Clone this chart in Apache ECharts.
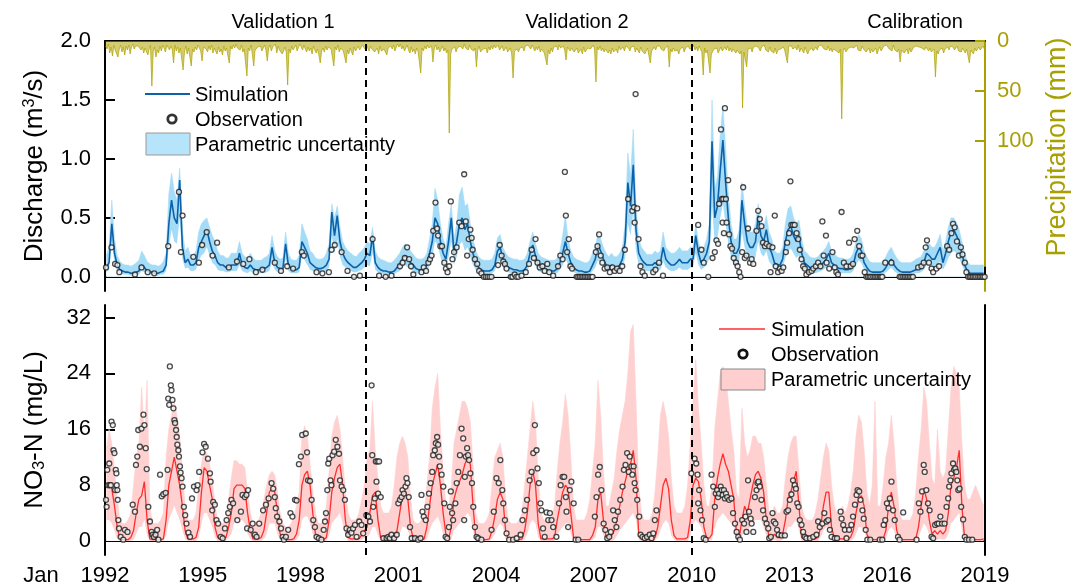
<!DOCTYPE html>
<html><head><meta charset="utf-8">
<script src="https://cdn.jsdelivr.net/npm/echarts@6/dist/echarts.min.js"></script>
<style>html,body{margin:0;padding:0;background:#fff}#c{width:1087px;height:587px}</style>
</head><body><div id="c"></div>
<script>
const FONT = "'Liberation Sans', Arial, Helvetica, sans-serif";
const startYear = 1992;
const xTickYears = [1992,1995,1998,2001,2004,2007,2010,2013,2016,2019];
const periodBreaks = [2000, 2010];
const periodLabels = ['Validation 1','Validation 2','Calibration'];
const qTicks = [0,0.5,1.0,1.5,2.0];
const pTicks = [0,50,100];
const nTicks = [0,8,16,24,32];

// Discharge, monthly (m3/s), Jan 1992 .. Dec 2018
const qSim = [
0.08,0.12,0.45,0.2,0.1,0.06,0.05,0.04,0.04,0.03,0.03,0.04,
0.05,0.1,0.08,0.05,0.04,0.04,0.03,0.03,0.04,0.05,0.1,0.45,
0.65,0.5,0.45,0.82,0.25,0.12,0.15,0.1,0.1,0.12,0.25,0.3,
0.35,0.4,0.3,0.22,0.18,0.12,0.1,0.1,0.08,0.08,0.1,0.1,
0.1,0.2,0.1,0.08,0.07,0.1,0.07,0.06,0.06,0.06,0.07,0.08,
0.1,0.25,0.12,0.08,0.07,0.07,0.28,0.1,0.07,0.06,0.06,0.08,
0.3,0.25,0.2,0.12,0.1,0.08,0.07,0.07,0.08,0.1,0.15,0.55,
0.35,0.52,0.3,0.2,0.15,0.12,0.1,0.08,0.08,0.1,0.12,0.15,
0.2,0.18,0.35,0.12,0.08,0.06,0.05,0.05,0.04,0.04,0.05,0.08,
0.1,0.15,0.18,0.15,0.12,0.1,0.07,0.06,0.06,0.07,0.1,0.2,
0.3,0.5,0.45,0.3,0.2,0.15,0.3,0.5,0.2,0.3,0.45,0.5,
0.4,0.45,0.3,0.2,0.12,0.08,0.06,0.05,0.05,0.05,0.06,0.1,
0.22,0.25,0.15,0.1,0.08,0.07,0.06,0.06,0.05,0.05,0.06,0.1,
0.2,0.27,0.18,0.1,0.08,0.07,0.06,0.05,0.05,0.05,0.07,0.12,
0.2,0.3,0.2,0.12,0.08,0.06,0.05,0.05,0.04,0.04,0.05,0.1,
0.15,0.27,0.22,0.15,0.1,0.08,0.1,0.08,0.08,0.1,0.15,0.3,
0.8,0.6,0.95,0.4,0.2,0.15,0.12,0.1,0.1,0.1,0.12,0.1,
0.12,0.25,0.15,0.12,0.1,0.1,0.12,0.15,0.12,0.12,0.12,0.15,
0.15,0.35,0.2,0.12,0.15,0.2,0.3,1.15,0.5,0.6,0.9,1.16,
0.8,0.5,0.3,0.2,0.2,0.25,0.65,0.45,0.3,0.25,0.25,0.3,
0.52,0.35,0.3,0.4,0.25,0.2,0.12,0.1,0.1,0.15,0.3,0.4,
0.43,0.35,0.3,0.35,0.2,0.12,0.1,0.08,0.07,0.07,0.08,0.1,
0.12,0.15,0.2,0.12,0.1,0.08,0.07,0.07,0.06,0.06,0.07,0.1,
0.2,0.25,0.22,0.12,0.08,0.05,0.04,0.04,0.04,0.04,0.05,0.08,
0.12,0.15,0.1,0.07,0.05,0.04,0.04,0.04,0.04,0.05,0.06,0.07,
0.08,0.12,0.2,0.18,0.15,0.15,0.2,0.25,0.12,0.2,0.3,0.38,
0.4,0.35,0.3,0.2,0.1,0.05,0.03,0.03,0.03,0.03,0.03,0.03];
const qHi = [
0.18,0.25,0.65,0.32,0.18,0.13,0.11,0.1,0.1,0.09,0.1,0.12,
0.14,0.22,0.18,0.13,0.11,0.1,0.1,0.09,0.1,0.13,0.2,0.7,
0.88,0.72,0.65,0.92,0.4,0.22,0.25,0.18,0.18,0.22,0.38,0.45,
0.48,0.5,0.42,0.35,0.3,0.22,0.18,0.18,0.16,0.16,0.2,0.2,
0.2,0.3,0.2,0.17,0.16,0.2,0.16,0.14,0.14,0.14,0.16,0.17,
0.2,0.35,0.22,0.17,0.15,0.16,0.38,0.2,0.15,0.14,0.14,0.18,
0.45,0.38,0.32,0.22,0.2,0.16,0.15,0.15,0.16,0.2,0.28,0.62,
0.5,0.6,0.42,0.3,0.25,0.22,0.2,0.18,0.17,0.2,0.22,0.25,
0.3,0.28,0.42,0.22,0.17,0.15,0.14,0.13,0.12,0.12,0.14,0.17,
0.2,0.25,0.28,0.26,0.22,0.19,0.16,0.15,0.15,0.16,0.2,0.32,
0.45,0.75,0.65,0.45,0.32,0.25,0.45,0.62,0.32,0.45,0.7,0.76,
0.6,0.62,0.45,0.32,0.22,0.17,0.15,0.14,0.14,0.14,0.15,0.2,
0.33,0.36,0.25,0.2,0.17,0.16,0.15,0.15,0.14,0.14,0.15,0.2,
0.3,0.38,0.28,0.2,0.17,0.16,0.15,0.14,0.14,0.14,0.16,0.22,
0.35,0.52,0.32,0.22,0.17,0.15,0.14,0.13,0.12,0.12,0.14,0.2,
0.25,0.37,0.32,0.25,0.2,0.17,0.2,0.17,0.17,0.2,0.25,0.45,
1.05,0.85,1.25,0.6,0.32,0.25,0.22,0.19,0.19,0.19,0.22,0.2,
0.22,0.38,0.25,0.22,0.2,0.2,0.22,0.25,0.22,0.22,0.22,0.25,
0.25,0.45,0.3,0.22,0.25,0.32,0.45,1.5,0.75,0.85,1.2,1.45,
1.1,0.7,0.45,0.32,0.32,0.4,0.8,0.6,0.42,0.38,0.38,0.45,
0.62,0.48,0.42,0.52,0.38,0.32,0.22,0.2,0.2,0.25,0.45,0.58,
0.6,0.5,0.45,0.48,0.32,0.22,0.2,0.17,0.16,0.16,0.17,0.2,
0.22,0.25,0.3,0.22,0.2,0.17,0.16,0.16,0.15,0.15,0.16,0.2,
0.3,0.36,0.32,0.22,0.17,0.13,0.12,0.12,0.12,0.12,0.13,0.17,
0.22,0.25,0.2,0.16,0.13,0.12,0.12,0.12,0.12,0.13,0.15,0.16,
0.17,0.22,0.3,0.28,0.25,0.25,0.3,0.36,0.22,0.3,0.42,0.5,
0.5,0.46,0.4,0.3,0.2,0.13,0.1,0.1,0.1,0.1,0.1,0.1];
const qLo = [
0.04,0.06,0.3,0.12,0.05,0.03,0.02,0.02,0.02,0.01,0.01,0.02,
0.02,0.05,0.04,0.02,0.02,0.02,0.01,0.01,0.02,0.02,0.05,0.25,
0.4,0.3,0.28,0.5,0.15,0.07,0.08,0.05,0.05,0.06,0.14,0.18,
0.2,0.25,0.18,0.12,0.1,0.06,0.05,0.05,0.04,0.04,0.05,0.05,
0.05,0.1,0.05,0.04,0.03,0.05,0.03,0.03,0.03,0.03,0.03,0.04,
0.05,0.13,0.06,0.04,0.03,0.03,0.15,0.05,0.03,0.03,0.03,0.04,
0.17,0.14,0.1,0.06,0.05,0.04,0.03,0.03,0.04,0.05,0.08,0.35,
0.2,0.32,0.17,0.1,0.08,0.06,0.05,0.04,0.04,0.05,0.06,0.08,
0.1,0.09,0.2,0.06,0.04,0.03,0.02,0.02,0.02,0.02,0.02,0.04,
0.05,0.08,0.1,0.08,0.06,0.05,0.03,0.03,0.03,0.03,0.05,0.1,
0.17,0.3,0.27,0.17,0.1,0.08,0.17,0.3,0.1,0.17,0.27,0.3,
0.22,0.25,0.17,0.1,0.06,0.04,0.03,0.02,0.02,0.02,0.03,0.05,
0.12,0.14,0.08,0.05,0.04,0.03,0.03,0.03,0.02,0.02,0.03,0.05,
0.1,0.15,0.1,0.05,0.04,0.03,0.03,0.02,0.02,0.02,0.03,0.06,
0.1,0.16,0.1,0.06,0.04,0.03,0.02,0.02,0.02,0.02,0.02,0.05,
0.08,0.14,0.12,0.08,0.05,0.04,0.05,0.04,0.04,0.05,0.08,0.16,
0.45,0.35,0.55,0.22,0.1,0.08,0.06,0.05,0.05,0.05,0.06,0.05,
0.06,0.13,0.08,0.06,0.05,0.05,0.06,0.08,0.06,0.06,0.06,0.08,
0.08,0.2,0.1,0.06,0.08,0.1,0.16,0.6,0.28,0.33,0.5,0.62,
0.45,0.28,0.17,0.1,0.1,0.13,0.38,0.25,0.16,0.13,0.13,0.17,
0.3,0.2,0.17,0.22,0.13,0.1,0.06,0.05,0.05,0.08,0.16,0.22,
0.24,0.2,0.16,0.18,0.1,0.06,0.05,0.04,0.03,0.03,0.04,0.05,
0.06,0.08,0.1,0.06,0.05,0.04,0.03,0.03,0.03,0.03,0.03,0.05,
0.1,0.14,0.12,0.06,0.04,0.02,0.02,0.02,0.02,0.02,0.02,0.04,
0.06,0.08,0.05,0.03,0.02,0.02,0.02,0.02,0.02,0.02,0.03,0.03,
0.04,0.06,0.1,0.09,0.08,0.08,0.1,0.13,0.06,0.1,0.16,0.2,
0.22,0.2,0.16,0.1,0.05,0.02,0.01,0.01,0.01,0.01,0.01,0.01];
// Discharge observations [decimal year, m3/s]
const qObs = [[1992.03,0.08],[1992.20,0.25],[1992.31,0.11],[1992.38,0.10],[1992.44,0.04],[1992.92,0.02],[1993.12,0.08],[1993.31,0.04],[1993.51,0.03],[1993.94,0.26],[1994.27,0.72],[1994.33,0.21],[1994.38,0.52],[1994.71,0.17],[1994.88,0.12],[1994.98,0.27],[1995.12,0.38],[1995.30,0.18],[1995.44,0.29],[1995.80,0.08],[1996.05,0.13],[1996.24,0.11],[1996.43,0.15],[1996.63,0.04],[1996.83,0.06],[1997.21,0.12],[1997.40,0.05],[1997.59,0.09],[1997.77,0.07],[1998.04,0.21],[1998.10,0.18],[1998.49,0.04],[1998.67,0.03],[1998.87,0.04],[1998.95,0.23],[1999.05,0.27],[1999.26,0.21],[1999.44,0.05],[1999.64,0.0],[1999.82,0.01],
[2000.21,0.32],[2000.41,0.01],[2000.61,0.0],[2000.79,0.01],[2001.05,0.09],[2001.13,0.12],[2001.20,0.16],[2001.27,0.25],[2001.33,0.15],[2001.39,0.09],[2001.46,0.02],[2001.71,0.04],[2001.78,0.08],[2001.85,0.05],[2001.92,0.12],[2001.97,0.15],[2002.02,0.18],[2002.07,0.39],[2002.14,0.63],[2002.19,0.41],[2002.22,0.35],[2002.29,0.26],[2002.34,0.26],[2002.41,0.12],[2002.46,0.07],[2002.51,0.04],[2002.56,0.09],[2002.61,0.64],[2002.66,0.15],[2002.71,0.21],[2002.79,0.25],[2002.87,0.46],[2002.94,0.43],[2003.02,0.87],[2003.07,0.47],[2003.11,0.18],[2003.16,0.32],[2003.21,0.40],[2003.25,0.33],[2003.28,0.23],[2003.35,0.15],[2003.42,0.11],[2003.48,0.05],[2003.55,0.03],[2003.62,0.0],[2003.68,0.0],[2003.74,0.0],[2003.80,0.0],[2003.86,0.0],[2004.06,0.10],[2004.11,0.27],[2004.17,0.18],[2004.22,0.13],[2004.27,0.11],[2004.32,0.07],[2004.45,0.0],[2004.50,0.0],[2004.57,0.02],[2004.62,0.0],[2004.68,0.0],[2004.78,0.01],[2004.91,0.04],[2005.01,0.11],[2005.09,0.23],[2005.16,0.16],[2005.21,0.32],[2005.27,0.12],[2005.34,0.08],[2005.42,0.09],[2005.49,0.05],[2005.57,0.11],[2005.63,0.04],[2005.75,0.01],[2005.90,0.09],[2005.97,0.18],[2006.04,0.15],[2006.11,0.89],[2006.14,0.52],[2006.18,0.21],[2006.23,0.32],[2006.28,0.09],[2006.33,0.07],[2006.47,0.0],[2006.52,0.0],[2006.57,0.0],[2006.62,0.0],[2006.67,0.0],[2006.72,0.0],[2006.77,0.0],[2006.82,0.0],[2006.87,0.0],[2006.92,0.0],[2006.96,0.0],[2007.06,0.21],[2007.11,0.26],[2007.16,0.36],[2007.21,0.18],[2007.26,0.12],[2007.33,0.07],[2007.41,0.08],[2007.49,0.04],[2007.57,0.08],[2007.64,0.05],[2007.71,0.07],[2007.79,0.05],[2007.87,0.09],[2007.95,0.23],[2008.05,0.66],[2008.18,0.56],[2008.23,0.59],[2008.25,0.46],[2008.28,1.55],[2008.33,0.58],[2008.37,0.32],[2008.43,0.09],[2008.49,0.04],[2008.56,0.01],[2008.82,0.04],[2008.89,0.06],[2009.00,0.12],[2009.12,0.01],[2010.20,0.44],[2010.30,0.23],
[2010.37,0.12],[2010.51,0.0],[2010.64,0.16],[2010.71,0.21],[2010.76,0.31],[2010.81,0.28],[2010.84,0.62],[2010.90,1.25],[2010.93,0.66],[2010.95,0.46],[2010.97,0.66],[2010.99,0.37],[2011.02,1.43],[2011.05,0.66],[2011.07,0.46],[2011.12,0.82],[2011.15,0.36],[2011.19,0.26],[2011.24,0.24],[2011.29,0.16],[2011.36,0.12],[2011.41,0.09],[2011.46,0.04],[2011.50,0.0],[2011.55,0.21],[2011.58,0.76],[2011.63,0.16],[2011.68,0.18],[2011.73,0.41],[2011.79,0.12],[2011.84,0.15],[2011.89,0.11],[2011.99,0.39],[2012.04,0.56],[2012.09,0.49],[2012.14,0.43],[2012.19,0.29],[2012.25,0.26],[2012.30,0.28],[2012.38,0.26],[2012.42,0.04],[2012.48,0.25],[2012.55,0.52],[2012.58,0.09],[2012.65,0.04],[2012.71,0.07],[2012.76,0.05],[2012.81,0.08],[2012.89,0.21],[2012.93,0.29],[2012.99,0.37],[2013.03,0.81],[2013.06,0.44],[2013.11,0.44],[2013.16,0.44],[2013.22,0.37],[2013.27,0.32],[2013.32,0.23],[2013.37,0.15],[2013.42,0.09],[2013.47,0.07],[2013.52,0.02],[2013.60,0.04],[2013.68,0.05],[2013.73,0.07],[2013.81,0.09],[2013.88,0.12],[2013.95,0.09],[2014.01,0.47],[2014.05,0.18],[2014.12,0.35],[2014.14,0.12],[2014.22,0.07],[2014.32,0.21],[2014.39,0.08],[2014.44,0.04],[2014.49,0.02],[2014.60,0.55],[2014.67,0.12],[2014.75,0.09],[2014.83,0.29],[2014.88,0.09],[2014.95,0.11],[2015.00,0.32],[2015.08,0.39],[2015.14,0.26],[2015.19,0.18],[2015.24,0.18],[2015.31,0.04],[2015.36,0.0],[2015.41,0.0],[2015.46,0.0],[2015.51,0.0],[2015.57,0.0],[2015.62,0.0],[2015.67,0.0],[2015.72,0.0],[2015.77,0.0],[2015.81,0.0],[2015.85,0.0],[2015.94,0.12],[2016.13,0.12],[2016.38,0.0],[2016.43,0.0],[2016.49,0.0],[2016.54,0.0],[2016.59,0.0],[2016.64,0.0],[2016.69,0.0],[2016.74,0.0],[2016.79,0.0],[2016.95,0.08],[2017.05,0.09],[2017.12,0.12],[2017.18,0.25],[2017.22,0.31],[2017.28,0.12],[2017.36,0.07],[2017.41,0.04],[2017.51,0.07],[2017.59,0.09],[2017.84,0.26],[2017.90,0.23],[2017.97,0.37],[2018.02,0.45],[2018.07,0.42],[2018.14,0.30],[2018.20,0.18],[2018.26,0.25],[2018.31,0.19],[2018.38,0.12],[2018.43,0.04],[2018.48,0.0],[2018.53,0.0],[2018.58,0.0],[2018.63,0.0],[2018.68,0.0],[2018.73,0.0],[2018.79,0.0],[2018.84,0.0],[2018.89,0.0],[2018.94,0.0],[2018.99,0.0]];

// Precipitation, semi-monthly (mm)
const precip = [
5,8,3,12,6,15,4,9,7,16,8,4,11,6,14,5,9,4,13,6,3,8,5,3,
5,3,9,6,12,7,5,14,8,4,45,10,6,16,9,12,5,10,4,7,11,4,6,9,
5,8,22,4,10,6,12,7,9,29,11,5,13,7,16,25,8,11,6,9,4,7,10,20,
6,4,8,11,5,9,4,12,7,10,13,6,11,8,14,5,10,7,9,22,5,8,4,7,
3,7,5,9,4,11,8,6,35,7,10,4,13,25,9,11,6,8,5,10,7,4,9,20,
7,4,10,6,8,3,12,5,9,7,13,10,6,11,44,8,12,5,9,7,4,10,6,3,
5,9,4,8,11,6,10,7,13,5,9,12,8,14,22,10,7,11,5,9,6,4,8,7,
25,6,9,4,11,7,5,10,8,22,9,13,7,11,14,6,10,8,5,9,7,4,6,8,
4,7,10,5,8,6,11,9,7,13,5,10,12,8,6,14,7,9,5,8,4,10,6,3,
6,3,8,5,10,7,4,9,12,6,11,8,13,7,10,9,32,7,10,5,8,4,7,5,
5,21,7,4,9,6,11,8,5,10,7,12,9,92,13,8,10,6,11,7,9,5,4,8,
3,7,5,9,4,8,6,10,7,26,9,5,11,13,8,10,7,12,6,9,5,8,4,7,
6,4,9,7,5,10,8,6,11,9,7,13,37,10,12,8,11,7,9,6,10,5,7,4,
5,8,4,7,10,6,9,5,11,8,7,12,10,24,9,13,7,11,6,8,5,9,4,7,
7,5,9,19,6,8,10,7,5,11,9,7,12,10,8,13,6,11,9,7,5,8,6,4,
8,41,6,9,5,10,7,11,8,6,12,9,13,7,11,10,8,12,5,9,7,6,10,5,
4,7,10,6,8,5,11,7,9,12,6,10,8,13,11,7,9,22,10,8,6,9,5,7,
5,8,6,10,7,9,5,26,8,11,7,10,12,9,13,8,10,6,11,7,9,5,8,6,
7,4,9,6,10,5,8,11,34,7,12,9,10,32,13,11,8,10,7,12,9,6,10,8,
6,9,5,10,7,11,8,6,12,9,7,13,10,67,11,9,26,8,10,7,11,6,8,5,
5,7,10,6,8,4,9,7,11,6,10,8,12,7,13,9,11,8,10,6,9,7,22,5,
7,5,8,10,6,9,4,11,7,8,12,6,10,13,9,11,7,10,8,6,9,5,7,4,
4,8,6,9,5,10,7,11,8,6,10,9,12,8,78,10,7,11,9,7,8,6,5,7,
6,4,9,7,10,5,8,6,11,9,7,12,8,11,10,7,13,9,6,10,8,5,7,4,
5,8,6,10,4,9,7,11,8,21,9,7,12,10,8,13,7,11,9,6,8,5,7,6,
4,7,5,9,6,8,10,7,11,9,8,36,10,13,9,11,7,12,8,10,6,9,5,7,
6,9,7,5,10,8,11,7,9,12,8,10,22,9,11,13,7,10,8,6,9,7,5,8];

// NO3-N, monthly (mg/L)
const nSim = [
8,8,7.5,5,2,0.3,0.2,0.2,0.2,0.5,1.5,4,
6,6.5,8.5,3,0.3,0.2,0.2,0.2,0.2,0.3,3,8,
10,12,10,8,5,1.5,0.3,0.3,0.3,0.5,2,7,
10.5,10,8,6,2,0.5,0.3,0.3,0.5,2,4,7.5,
8,8,8,7.5,4,1.5,0.3,0.3,0.3,0.5,1.5,4,
7,7.5,7,4,1,0.3,0.2,0.2,0.2,0.3,1,3,
8,9.5,10,8,4,1,0.3,0.2,0.2,0.5,3,7,
9,10.5,11,8,3,0.5,0.3,0.3,0.3,0.3,0.8,1.5,
2,4,6.5,7,3,0.5,0.2,0.2,0.2,0.2,0.3,1.5,
4,6.5,7,6,2,0.3,0.2,0.2,0.2,0.3,2,5,
8,9.5,11,8,4,1,0.3,2,6,7.5,8.5,9.5,
11,12,11,5,0.5,0.2,0.2,0.2,0.2,0.3,1.5,3.5,
6,7,6,1.5,0.3,0.2,0.2,0.2,0.2,0.3,1.5,4,
8,10,8,2.5,0.3,0.3,0.3,0.3,0.3,0.5,3,5,
7,8,7.5,4,0.5,0.2,0.2,0.2,0.2,0.2,0.2,0.8,
2,6,7,3,0.5,0.5,0.8,1.5,3,5,7,8.5,
10,11,13,9,1,0.3,0.2,0.2,0.2,0.3,0.5,2,
5,8,9,7.5,3,0.8,0.3,0.3,0.3,0.3,0.5,3,
8,9,8.5,6,2,0.5,0.4,1,6,9,11,12.5,
11,10,8,6,1,0.5,3,5,4,6,8,9.5,
10,9,7,3,0.5,0.5,1,0.5,0.5,1,3,6,
7,8.5,10,5,0.5,0.3,0.3,0.3,0.3,0.3,0.5,2,
5,7,7,2,0.5,0.3,0.3,0.3,0.3,0.3,0.5,1.5,
4,6,6.5,5,1,0.2,0.2,0.2,0.2,0.2,0.3,1.5,
5,7,5,1.5,0.3,0.2,0.2,0.2,0.2,0.2,0.3,2,
5,7.5,6,3,1,1.5,1,1.5,1,1.5,4,8,
9,10.5,13,5,0.3,0.2,0.2,0.2,0.2,0.2,0.2,0.3];
const nHi = [
13,16,14,10,6,3,2.5,2.5,3,4,8,12,
14,22,15,23,5,2.5,2.5,2.5,3,4,12,16,
18,20,18,15,10,5,3,3,3,4,8,11,
13,12.5,11,9,5,3,2.5,2.5,3,6,9,11.5,
11.5,11,11,10.5,7,4,2.5,2.5,3,4,6,8,
9.5,10,9.5,7,4,2.5,2,2,2.5,3.5,5,7,
15,16.5,15,11,7,4,2.5,2.5,3,5,10,15,
17,18,16,12,7,4,3,3,3,4,6,8,
12,13,20,13,9,5,4,4,4,5,8,12,
14,15,14,12,6,3,2.5,2.5,3,4,8,12,
19,22,24,16,10,5,4,8,14,16,18,20,
20,19,17,11,4,2.5,2.5,2.5,3,4,8,12,
13,14,12,6,3,2.5,2.5,2.5,3,4,8,12,
16,20,17,9,4,3,3,3,3.5,5,10,14,
17,21,18,12,5,3,3,3,3,4,6,10,
14,23,18,10,5,5,7,9,13,16,18,20,
24,30,31,20,8,4,3,3,3,4,7,12,
18,20,18,15,9,5,4,4,4,5,8,14,
20,26,19,14,8,5,5,8,16,20,24,25,
24,20,16,13,7,6,19,14,12,13,15,15,
14,14,12,8,4,4,5,4,4,5,9,12,
14,15,15,10,5,3.5,3,3,3,4,6,9,
12,14,13,8,5,4,4,5,4,5,7,10,
15,18,17,13,7,5,8,20,5,5,8,12,
14,18,14,8,4,3,3,3,3,4,7,12,
16,22,20,14,9,8,16,10,9,10,16,22,
25,24,22,14,8,6,6,7,8,7,6,5];
const nLo = [
3,3,2.5,1.5,0.3,0,0,0,0,0,0.2,1,
2,2,3,0.8,0,0,0,0,0,0,0.8,3,
4,5,4,3,1.5,0.3,0,0,0,0,0.5,2.5,
4,4,3,2,0.5,0,0,0,0,0.5,1,2.5,
3,3,3,2.5,1,0.3,0,0,0,0,0.3,1,
2.5,2.5,2.5,1,0.2,0,0,0,0,0,0.2,0.8,
3,3.5,3.5,2.5,1,0.2,0,0,0,0,0.8,2.5,
3,3.5,4,2.5,0.8,0,0,0,0,0,0.2,0.4,
0.5,1,2,2,0.8,0,0,0,0,0,0,0.3,
1,2,2,1.5,0.3,0,0,0,0,0,0.3,1.5,
2.5,3,3.5,2.5,1,0.2,0,0.3,1.5,2,2.5,3,
3.5,4,3.5,1.5,0,0,0,0,0,0,0.3,1,
2,2.5,2,0.3,0,0,0,0,0,0,0.3,1,
2.5,3,2.5,0.5,0,0,0,0,0,0,0.8,1.5,
2,2.5,2.5,1,0,0,0,0,0,0,0,0.2,
0.5,2,2,0.8,0,0,0,0.2,0.8,1.5,2,2.5,
3,3.5,4,3,0.2,0,0,0,0,0,0,0.5,
1.5,2.5,3,2.5,0.8,0.2,0,0,0,0,0,0.8,
2.5,3,2.5,2,0.5,0,0,0.2,2,3,3.5,4,
3.5,3,2.5,2,0.2,0,0.8,1.5,1,2,2.5,3,
3,3,2,0.8,0,0,0.2,0,0,0.2,0.8,2,
2,2.5,3,1.5,0,0,0,0,0,0,0,0.5,
1.5,2,2,0.5,0,0,0,0,0,0,0,0.3,
1,2,2,1.5,0.2,0,0,0,0,0,0,0.3,
1.5,2,1.5,0.3,0,0,0,0,0,0,0,0.5,
1.5,2.5,2,0.8,0.2,0.3,0.2,0.3,0.2,0.3,1,2.5,
3,3.5,4,1.5,0,0,0,0,0,0,0,0];
// NO3-N observations [decimal year, mg/L]
const nObs = [[1992.03,5.9],[1992.05,4.9],[1992.07,10.2],[1992.10,8.0],[1992.13,11.1],[1992.15,8.0],[1992.18,8.0],[1992.20,17.1],[1992.24,16.6],[1992.26,13.0],[1992.29,12.6],[1992.31,7.3],[1992.33,10.2],[1992.35,9.7],[1992.36,8.0],[1992.38,7.3],[1992.39,5.9],[1992.41,3.0],[1992.43,1.8],[1992.48,0.6],[1992.56,0.2],[1992.61,1.6],[1992.69,1.3],[1992.85,5.2],[1992.92,4.2],[1992.95,10.9],[1992.99,12.1],[1993.02,15.9],[1993.07,13.5],[1993.12,16.1],[1993.18,18.1],[1993.21,16.6],[1993.25,13.3],[1993.28,10.3],[1993.33,4.9],[1993.38,2.8],[1993.43,1.3],[1993.46,0.9],[1993.50,0.6],[1993.55,0.9],[1993.60,1.6],[1993.64,0.2],[1993.69,9.5],[1993.74,6.4],[1993.79,6.7],[1993.86,6.9],[1993.92,10.2],[1993.94,20.4],[1993.97,19.5],[1993.99,25.0],[1994.02,22.3],[1994.04,21.6],[1994.07,20.2],[1994.10,19.0],[1994.13,17.3],[1994.15,16.9],[1994.18,15.9],[1994.20,14.9],[1994.22,13.8],[1994.25,13.0],[1994.27,12.1],[1994.30,10.7],[1994.32,9.8],[1994.35,9.0],[1994.38,7.8],[1994.42,4.9],[1994.46,3.7],[1994.50,2.5],[1994.56,1.2],[1994.61,0.6],[1994.67,6.1],[1994.73,7.8],[1994.81,7.3],[1994.84,8.0],[1994.89,9.9],[1994.99,12.7],[1995.04,13.9],[1995.09,13.5],[1995.16,11.8],[1995.22,9.7],[1995.24,8.5],[1995.29,4.4],[1995.32,5.6],[1995.37,5.2],[1995.42,3.0],[1995.47,2.5],[1995.55,0.6],[1995.61,0.4],[1995.68,1.8],[1995.73,3.0],[1995.78,4.0],[1995.83,4.9],[1995.88,5.9],[1995.93,5.4],[1996.06,3.0],[1996.17,4.2],[1996.22,6.6],[1996.29,6.3],[1996.34,6.6],[1996.39,7.3],[1996.36,1.8],[1996.47,1.6],[1996.53,2.5],[1996.60,0.9],[1996.65,0.6],[1996.73,2.5],[1996.85,4.4],[1996.94,5.2],[1997.02,6.1],[1997.11,8.3],[1997.16,7.5],[1997.21,6.3],[1997.24,4.7],[1997.28,3.5],[1997.35,2.8],[1997.40,1.8],[1997.45,0.6],[1997.49,0.2],[1997.55,0.6],[1997.62,1.6],[1997.69,4.0],[1997.75,3.5],[1997.83,5.9],[1997.88,5.8],[1997.95,11.0],[1998.01,12.1],[1998.05,15.2],[1998.16,15.4],[1998.20,12.7],[1998.23,8.7],[1998.29,8.6],[1998.34,5.9],[1998.39,3.0],[1998.44,2.0],[1998.49,0.6],[1998.56,0.4],[1998.64,0.2],[1998.71,1.6],[1998.75,2.8],[1998.78,4.0],[1998.82,7.3],[1998.85,11.1],[1998.88,11.8],[1998.92,8.7],[1998.95,8.0],[1998.98,12.3],[1999.03,12.8],[1999.08,14.5],[1999.13,13.5],[1999.18,12.5],[1999.21,8.7],[1999.26,7.8],[1999.31,7.3],[1999.36,5.9],[1999.41,1.8],[1999.46,0.9],[1999.51,1.6],[1999.56,1.2],[1999.61,1.8],[1999.67,2.3],[1999.72,0.6],[1999.80,2.8],[1999.87,2.3],[1999.92,1.1],[2000.02,3.7],
[2000.08,3.5],[2000.13,2.8],[2000.18,22.3],[2000.20,12.3],[2000.23,4.9],[2000.28,6.1],[2000.31,11.4],[2000.33,8.5],[2000.36,11.4],[2000.38,6.8],[2000.41,11.4],[2000.46,6.3],[2000.54,0.4],[2000.64,0.4],[2000.69,0.6],[2000.74,0.4],[2000.79,0.9],[2000.87,0.4],[2000.95,0.9],[2001.00,5.4],[2001.05,5.9],[2001.10,6.3],[2001.13,7.3],[2001.17,6.8],[2001.22,7.8],[2001.25,9.0],[2001.28,8.3],[2001.32,6.3],[2001.36,2.0],[2001.41,0.4],[2001.51,0.4],[2001.61,0.2],[2001.68,0.4],[2001.71,6.6],[2001.74,4.2],[2001.78,3.5],[2001.84,3.0],[2001.89,4.9],[2001.94,6.8],[2001.99,8.3],[2002.04,9.9],[2002.07,12.3],[2002.12,13.0],[2002.15,14.0],[2002.19,14.9],[2002.22,13.8],[2002.25,12.1],[2002.27,10.7],[2002.33,9.5],[2002.38,7.8],[2002.41,5.4],[2002.45,0.6],[2002.50,0.4],[2002.55,2.0],[2002.58,4.9],[2002.61,7.1],[2002.65,4.0],[2002.68,3.0],[2002.75,5.4],[2002.79,8.3],[2002.84,9.9],[2002.89,12.3],[2002.94,16.1],[2002.99,14.7],[2003.02,3.0],[2003.04,9.2],[2003.07,12.1],[2003.11,13.3],[2003.14,12.3],[2003.17,11.6],[2003.21,9.7],[2003.26,8.3],[2003.30,4.9],[2003.35,2.0],[2003.40,0.6],[2003.45,0.4],[2003.55,0.2],[2003.86,1.6],[2003.93,4.2],[2004.01,9.0],[2004.08,8.3],[2004.13,11.6],[2004.19,7.3],[2004.22,5.4],[2004.27,3.0],[2004.32,1.1],[2004.40,0.2],[2004.52,0.2],[2004.63,0.4],[2004.75,0.9],[2004.81,3.0],[2004.88,4.4],[2004.95,5.9],[2005.03,8.7],[2005.09,9.9],[2005.14,12.6],[2005.19,16.6],[2005.24,13.0],[2005.27,10.4],[2005.31,8.3],[2005.36,5.4],[2005.39,4.4],[2005.44,1.8],[2005.49,0.6],[2005.55,4.1],[2005.60,3.0],[2005.65,4.0],[2005.70,3.0],[2005.75,2.0],[2005.85,0.6],[2005.93,5.4],[2005.98,8.0],[2006.04,9.2],[2006.09,9.2],[2006.14,6.3],[2006.16,4.2],[2006.21,2.0],[2006.26,7.3],[2006.31,8.5],[2006.38,5.4],[2006.44,0.2],[2006.52,0.2],[2007.03,3.5],[2007.08,6.3],[2007.13,9.5],[2007.18,10.6],[2007.23,7.3],[2007.30,2.5],[2007.35,1.6],[2007.41,0.4],[2007.47,0.6],[2007.52,1.3],[2007.59,4.4],[2007.64,3.0],[2007.69,2.0],[2007.74,4.2],[2007.81,5.9],[2007.88,7.8],[2007.92,10.2],[2007.97,10.9],[2008.02,12.6],[2008.07,9.9],[2008.10,12.1],[2008.15,10.7],[2008.18,9.5],[2008.22,10.7],[2008.25,8.3],[2008.28,7.3],[2008.33,5.9],[2008.39,3.5],[2008.43,0.9],[2008.49,0.6],[2008.56,0.4],[2008.63,0.6],[2008.71,0.9],[2008.77,0.4],[2008.82,1.1],[2008.87,3.0],[2008.92,4.4],[2009.99,9.7],[2010.09,11.8],[2010.14,11.1],[2010.18,9.5],[2010.20,5.4],[2010.23,7.3],[2010.27,4.4],[2010.32,3.0],[2010.37,0.4],[2010.43,0.2],
[2010.61,9.5],[2010.66,7.8],[2010.71,4.9],[2010.74,6.8],[2010.78,7.3],[2010.81,6.3],[2010.84,6.8],[2010.89,7.8],[2010.92,7.3],[2010.95,6.6],[2010.99,7.3],[2011.02,6.1],[2011.05,6.8],[2011.09,6.3],[2011.15,5.9],[2011.22,6.1],[2011.27,4.0],[2011.33,2.5],[2011.38,1.3],[2011.43,0.6],[2011.48,0.2],[2011.55,3.0],[2011.61,2.5],[2011.65,3.5],[2011.68,1.3],[2011.73,8.7],[2011.76,4.2],[2011.81,3.2],[2011.84,2.5],[2011.89,1.3],[2011.94,6.3],[2011.99,7.3],[2012.02,8.3],[2012.05,8.5],[2012.09,7.8],[2012.14,5.9],[2012.19,4.4],[2012.25,3.2],[2012.30,2.5],[2012.35,1.8],[2012.38,0.4],[2012.43,0.6],[2012.48,4.0],[2012.52,2.8],[2012.57,2.5],[2012.62,1.6],[2012.67,0.9],[2012.76,0.8],[2012.86,0.8],[2012.91,4.2],[2012.96,4.4],[2013.01,5.9],[2013.06,6.7],[2013.11,8.7],[2013.16,8.0],[2013.20,7.5],[2013.24,5.4],[2013.28,4.9],[2013.32,3.0],[2013.37,2.3],[2013.42,1.3],[2013.47,0.6],[2013.52,0.4],[2013.63,0.4],[2013.73,0.6],[2013.83,0.9],[2013.88,2.8],[2013.93,2.0],[2014.01,2.5],[2014.07,4.0],[2014.14,2.8],[2014.19,3.0],[2014.24,1.6],[2014.29,0.6],[2014.39,0.4],[2014.46,0.4],[2014.57,4.2],[2014.60,3.2],[2014.65,2.3],[2014.70,1.6],[2014.75,0.4],[2014.83,1.6],[2014.90,2.3],[2014.95,3.5],[2015.01,5.2],[2015.06,6.6],[2015.09,7.3],[2015.14,7.1],[2015.18,5.9],[2015.24,4.4],[2015.28,3.2],[2015.34,1.6],[2015.39,0.2],[2015.48,0.2],[2015.77,0.2],[2015.85,0.2],[2015.89,2.3],[2015.94,3.0],[2015.99,5.4],[2016.04,4.7],[2016.08,6.1],[2016.13,8.5],[2016.18,4.4],[2016.23,3.0],[2016.33,0.6],[2016.38,0.2],[2016.49,4.1],[2016.90,0.2],[2016.97,5.4],[2017.02,4.2],[2017.07,7.1],[2017.12,10.9],[2017.15,9.9],[2017.20,7.3],[2017.25,5.4],[2017.30,4.4],[2017.36,0.6],[2017.41,0.4],[2017.47,2.3],[2017.53,2.5],[2017.58,2.5],[2017.63,3.5],[2017.68,2.5],[2017.76,2.5],[2017.82,4.9],[2017.87,6.1],[2017.90,7.8],[2017.94,8.7],[2017.97,9.7],[2018.02,11.1],[2018.05,10.2],[2018.09,10.4],[2018.12,9.9],[2018.15,8.7],[2018.18,7.3],[2018.22,7.5],[2018.27,4.9],[2018.33,3.1],[2018.38,0.6],[2018.43,0.2],[2018.51,0.2],[2018.61,0.2]];

const BLUE = '#0b62ab', BLUE_BAND = '#a4dbf6';
const RED = '#ff2e2e', PINK = '#ffd0d0';
const OLIVE = '#a89f00', OLIVE_BAR = '#aea300';

function monthly(arr){ return arr.map((v,i)=>[startYear + (i+0.5)/12, v]); }
function semiMonthly(arr){ return arr.map((v,i)=>[startYear + (i+0.5)/24, v]); }

const chart = echarts.init(document.getElementById('c'), null, {renderer:'canvas'});

const axisLine = {show:true, lineStyle:{color:'#000', width:2}};
const xCommon = {type:'value', min:1992, max:2019, interval:3, splitLine:{show:false}};
const dashed = {
  silent:true, symbol:['none','none'], label:{show:false}, animation:false,
  lineStyle:{color:'#000', width:2, type:[7,5]},
  data: periodBreaks.map(v=>({xAxis:v}))
};
const obsStyle = {color:'#f2f2f2', borderColor:'#1e1e1e', borderWidth:1.3};

const option = {
  animation:false,
  backgroundColor:'#fff',
  textStyle:{fontFamily:FONT},
  grid:[
    {left:105, right:102, top:41, height:250},
    {left:105, right:102, top:305, height:250}
  ],
  xAxis:[
    Object.assign({}, xCommon, {gridIndex:0, position:'bottom', axisLine,
      axisTick:{show:true, inside:true, length:10, lineStyle:{color:'#000', width:2}},
      axisLabel:{show:false}}),
    Object.assign({}, xCommon, {gridIndex:0, position:'top', axisLine,
      axisTick:{show:false}, axisLabel:{show:false}}),
    Object.assign({}, xCommon, {gridIndex:1, position:'bottom', axisLine,
      axisTick:{show:true, inside:true, length:10, lineStyle:{color:'#000', width:2}},
      axisLabel:{show:true, fontSize:22, color:'#000', margin:10, fontFamily:FONT,
        customValues:xTickYears, formatter:v=>String(v)}}),
    Object.assign({}, xCommon, {gridIndex:1, position:'top', axisLine,
      axisTick:{show:false}, axisLabel:{show:false}})
  ],
  yAxis:[
    {type:'value', gridIndex:0, position:'left', min:-0.12, max:2.0, splitLine:{show:false},
      axisLine, axisTick:{show:true, inside:true, length:10, customValues:qTicks, lineStyle:{color:'#000', width:2}},
      axisLabel:{fontSize:22, color:'#000', margin:14, fontFamily:FONT, customValues:qTicks, formatter:v=>v.toFixed(1)},
      name:'Discharge (m{sup|3}/s)', nameLocation:'middle', nameGap:57, nameRotate:90,
      nameTextStyle:{fontSize:26, color:'#000', fontFamily:FONT,
        rich:{sup:{fontSize:16, color:'#000', fontFamily:FONT, verticalAlign:'top', lineHeight:16}}}},
    {type:'value', gridIndex:0, position:'right', inverse:true, min:0, max:250, splitLine:{show:false},
      axisLine:{show:true, lineStyle:{color:OLIVE, width:2}},
      axisTick:{show:true, inside:true, length:10, customValues:pTicks, lineStyle:{color:OLIVE, width:2}},
      axisLabel:{fontSize:22, color:OLIVE, margin:12, fontFamily:FONT, customValues:pTicks}},
    {type:'value', gridIndex:1, position:'left', min:-2, max:33.8, splitLine:{show:false},
      axisLine, axisTick:{show:true, inside:true, length:10, customValues:nTicks, lineStyle:{color:'#000', width:2}},
      axisLabel:{fontSize:22, color:'#000', margin:14, fontFamily:FONT, customValues:nTicks},
      name:'NO{sub|3}-N (mg/L)', nameLocation:'middle', nameGap:57, nameRotate:90,
      nameTextStyle:{fontSize:26, color:'#000', fontFamily:FONT,
        rich:{sub:{fontSize:16, color:'#000', fontFamily:FONT, verticalAlign:'bottom', lineHeight:16}}}},
    {type:'value', gridIndex:1, position:'right', min:-2, max:33.8, splitLine:{show:false},
      axisLine, axisTick:{show:false}, axisLabel:{show:false}}
  ],
  series:[
    {name:'qHi', type:'line', xAxisIndex:0, yAxisIndex:0, data:monthly(qHi), symbol:'none',
      lineStyle:{width:0.6, color:BLUE_BAND}, areaStyle:{color:BLUE_BAND, opacity:1}, z:1},
    {name:'qLo', type:'line', xAxisIndex:0, yAxisIndex:0, data:monthly(qLo), symbol:'none',
      lineStyle:{width:0}, areaStyle:{color:'#fff', opacity:1}, z:1},
    {name:'Precipitation', type:'line', xAxisIndex:0, yAxisIndex:1, data:semiMonthly(precip),
      symbol:'none', lineStyle:{width:0.8, color:OLIVE_BAR, opacity:0.9},
      areaStyle:{color:OLIVE_BAR, opacity:0.55}, z:2},
    {name:'Simulation', type:'line', xAxisIndex:0, yAxisIndex:0, data:monthly(qSim), symbol:'none',
      lineStyle:{width:1.6, color:BLUE}, z:3, markLine:dashed},
    {name:'Observation', type:'scatter', xAxisIndex:0, yAxisIndex:0, data:qObs, symbol:'circle',
      symbolSize:5, itemStyle:obsStyle, z:4},

    {name:'nHi', type:'line', xAxisIndex:2, yAxisIndex:2, data:monthly(nHi), symbol:'none',
      lineStyle:{width:0.6, color:PINK}, areaStyle:{color:PINK, opacity:1}, z:1},
    {name:'nLo', type:'line', xAxisIndex:2, yAxisIndex:2, data:monthly(nLo), symbol:'none',
      lineStyle:{width:0}, areaStyle:{color:'#fff', opacity:1}, z:1},
    {name:'NO3 Simulation', type:'line', xAxisIndex:2, yAxisIndex:2, data:monthly(nSim), symbol:'none',
      lineStyle:{width:1.3, color:RED}, z:3, markLine:dashed},
    {name:'NO3 Observation', type:'scatter', xAxisIndex:2, yAxisIndex:2, data:nObs, symbol:'circle',
      symbolSize:5, itemStyle:obsStyle, z:4}
  ],
  graphic:[
    {type:'text', x:283, y:22, style:{text:periodLabels[0], font:'20px '+FONT, fill:'#000', align:'center', verticalAlign:'middle'}},
    {type:'text', x:577, y:22, style:{text:periodLabels[1], font:'20px '+FONT, fill:'#000', align:'center', verticalAlign:'middle'}},
    {type:'text', x:915, y:22, style:{text:periodLabels[2], font:'20px '+FONT, fill:'#000', align:'center', verticalAlign:'middle'}},
    {type:'text', x:1058, y:147, rotation:Math.PI/2,
      style:{text:'Precipitation (mm)', font:'27px '+FONT, fill:OLIVE, align:'center', verticalAlign:'middle'}},
    {type:'text', x:41, y:576, style:{text:'Jan', font:'22px '+FONT, fill:'#000', align:'center', verticalAlign:'middle'}},
    {type:'line', z:10, shape:{x1:145,y1:94,x2:190,y2:94}, style:{stroke:BLUE, lineWidth:2}},
    {type:'text', z:10, x:195, y:95, style:{text:'Simulation', font:'20px '+FONT, fill:'#000', verticalAlign:'middle'}},
    {type:'circle', z:10, shape:{cx:172, cy:119, r:4.2}, style:{fill:'#fff', stroke:'#333', lineWidth:2.8}},
    {type:'text', z:10, x:195, y:120, style:{text:'Observation', font:'20px '+FONT, fill:'#000', verticalAlign:'middle'}},
    {type:'rect', z:10, shape:{x:146, y:133, width:44, height:22}, style:{fill:'#b6e4fa', stroke:'#9a9a9a', lineWidth:1}},
    {type:'text', z:10, x:195, y:145, style:{text:'Parametric uncertainty', font:'20px '+FONT, fill:'#000', verticalAlign:'middle'}},
    {type:'line', z:10, shape:{x1:719,y1:329,x2:765,y2:329}, style:{stroke:RED, lineWidth:1.5}},
    {type:'text', z:10, x:771, y:330, style:{text:'Simulation', font:'20px '+FONT, fill:'#000', verticalAlign:'middle'}},
    {type:'circle', z:10, shape:{cx:743, cy:354, r:4.2}, style:{fill:'#fff', stroke:'#111', lineWidth:2.8}},
    {type:'text', z:10, x:771, y:355, style:{text:'Observation', font:'20px '+FONT, fill:'#000', verticalAlign:'middle'}},
    {type:'rect', z:10, shape:{x:721, y:369, width:44, height:21}, style:{fill:'#ffcfcf', stroke:'#8a8a8a', lineWidth:1}},
    {type:'text', z:10, x:771, y:380, style:{text:'Parametric uncertainty', font:'20px '+FONT, fill:'#000', verticalAlign:'middle'}}
  ]
};
chart.setOption(option);
</script>
</body></html>
